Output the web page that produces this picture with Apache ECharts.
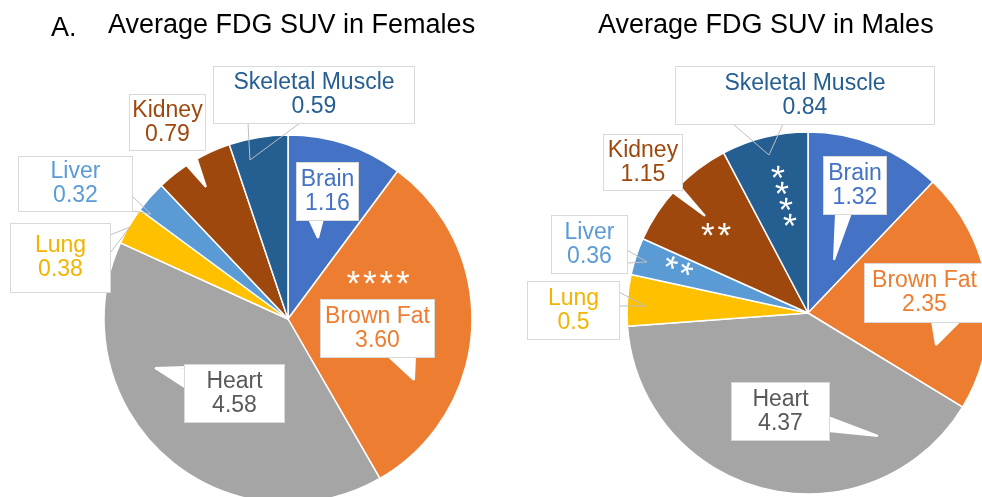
<!DOCTYPE html>
<html>
<head>
<meta charset="utf-8">
<script src="https://cdn.jsdelivr.net/npm/echarts@6/dist/echarts.min.js"></script>
<style>html,body{margin:0;padding:0;background:#fff}#c{width:982px;height:497px}</style>
</head>
<body>
<div id="c"></div>
<script>
// ---- data ----
var tissues = ['Brain', 'Brown Fat', 'Heart', 'Lung', 'Liver', 'Kidney', 'Skeletal Muscle'];
var femaleSUV = [1.16, 3.60, 4.58, 0.38, 0.32, 0.79, 0.59];
var maleSUV = [1.32, 2.35, 4.37, 0.5, 0.36, 1.15, 0.84];
var femaleSig = ['', '****', '', '', '', '', ''];
var maleSig = ['', '', '', '', '**', '**', '****'];
var titleFemale = 'Average FDG SUV in Females';
var titleMale = 'Average FDG SUV in Males';
var panelLabel = 'A.';

// ---- styles / layout ----
var sliceColors = ['#4472C4', '#ED7D31', '#A5A5A5', '#FFC000', '#5B9BD5', '#9E480E', '#255E91'];
var textColors = ['#4472C4', '#ED7D31', '#595959', '#F2B400', '#5B9BD5', '#9E480E', '#255E91'];
var FONT = "'Liberation Sans', Arial, sans-serif";
// callout boxes [x1,y1,x2,y2]
var femaleBoxes = [[297,163,358,220],[321,300,434,357],[185,365,284,422],[11,224,110,292],[19,157,132,211],[130,95,205,150],[214,67,414,123]];
var maleBoxes = [[824,157,886,214],[865,264,984,322],[732,383,829,440],[528,282,619,339],[552,216,627,273],[604,135,682,190],[676,67,934,124]];
// tails: [baseA, tip, baseB, filled]
var femaleTails = [
  [[309,219],[318,238],[323,219],true],
  [[388,356],[414,380],[415,356],true],
  [[186,367],[155,368],[186,388],true],
  [[110,235],[130,227],[110,253],false],
  [[132,196],[151,214],[132,211],false],
  [[173,150],[206,187],[194,150],true],
  [[248,123],[250,160],[300,123],false]
];
var maleTails = [
  [[836,213],[834,260],[851,213],true],
  [[932,321],[936,345],[960,321],true],
  [[828,417],[878,436],[828,431],true],
  [[619,292],[645,306],[619,306],false],
  [[627,250],[647,262],[627,263],false],
  [[668,189],[705,216],[682,189],true],
  [[733,124],[769,155],[783,124],false]
];
// significance marker positions [x, y, rotate]
var femaleSigPos = [null,[378,285,0],null,null,null,null,null];
var maleSigPos = [null,null,null,null,[676,273,-22],[716,237,0],[776,198,-76]];

function fan(t) {
  var a = t[0], tip = t[1], b = t[2];
  if (!t[3]) return [a, tip, b];
  var len = Math.hypot(b[0]-a[0], b[1]-a[1]);
  var n = Math.max(2, Math.ceil(len / 1.3));
  var pts = [];
  for (var i = 0; i <= n; i++) {
    var f = i / n;
    pts.push([a[0] + (b[0]-a[0]) * f, a[1] + (b[1]-a[1]) * f]);
    pts.push(tip);
  }
  return pts;
}

// main pie: slices + significance asterisks
function mainSeries(values, sig, pos, center, radius) {
  return {
    type: 'pie',
    center: center,
    radius: radius,
    startAngle: 90,
    clockwise: true,
    avoidLabelOverlap: false,
    silent: true,
    z: 2,
    itemStyle: { borderColor: '#FFFFFF', borderWidth: 1.5 },
    label: {
      show: true,
      position: 'inside',
      color: '#FFFFFF',
      fontFamily: FONT,
      fontSize: 35,
      formatter: function (p) { return sig[p.dataIndex].split('').join('\u200A'); }
    },
    labelLine: { show: false },
    labelLayout: function (p) {
      var q = pos[p.dataIndex];
      if (!q) return {};
      return { x: q[0], y: q[1], rotate: q[2], align: 'center', verticalAlign: 'middle' };
    },
    data: tissues.map(function (n, i) {
      return { name: n, value: values[i], itemStyle: { color: sliceColors[i] } };
    })
  };
}

// transparent overlay pie carrying the callout labels (drawn above slices)
function calloutSeries(values, boxes, tails, center, radius, fmt) {
  return {
    type: 'pie',
    center: center,
    radius: radius,
    startAngle: 90,
    clockwise: true,
    avoidLabelOverlap: false,
    silent: true,
    z: 5,
    itemStyle: { color: 'rgba(0,0,0,0)', borderWidth: 0 },
    label: {
      show: true,
      position: 'outside',
      formatter: function (p) { return p.name + '\n' + fmt(p.value); },
      fontFamily: FONT,
      fontSize: 23,
      lineHeight: 24,
      align: 'center',
      backgroundColor: '#FFFFFF',
      borderColor: '#D9D9D9',
      borderWidth: 1,
      overflow: 'none'
    },
    labelLine: { show: true, smooth: false },
    labelLayout: function (p) {
      var bx = boxes[p.dataIndex];
      return {
        x: (bx[0] + bx[2]) / 2,
        y: (bx[1] + bx[3]) / 2,
        align: 'center',
        verticalAlign: 'middle',
        labelLinePoints: fan(tails[p.dataIndex])
      };
    },
    data: tissues.map(function (name, i) {
      var bx = boxes[i];
      var w = bx[2] - bx[0], h = bx[3] - bx[1];
      var pv = Math.max(0, (h - 48) / 2);
      return {
        name: name,
        value: values[i],
        label: { color: textColors[i], width: w - 8, padding: [pv, 4, pv, 4] },
        labelLine: { lineStyle: tails[i][3] ? { color: '#FFFFFF', width: 2 } : { color: '#BFBFBF', width: 1 } }
      };
    })
  };
}

var chart = echarts.init(document.getElementById('c'), null, { renderer: 'canvas' });
var tStyle = { fontFamily: FONT, fontSize: 27, fontWeight: 'normal', color: '#000000' };
chart.setOption({
  animation: false,
  backgroundColor: '#FFFFFF',
  title: [
    { text: panelLabel, left: 51, top: 15, padding: 0, textStyle: tStyle },
    { text: titleFemale, left: 108, top: 12, padding: 0, textStyle: tStyle },
    { text: titleMale, left: 598, top: 12, padding: 0, textStyle: tStyle }
  ],
  series: [
    mainSeries(femaleSUV, femaleSig, femaleSigPos, [288, 319], 184),
    mainSeries(maleSUV, maleSig, maleSigPos, [808, 313], 181),
    calloutSeries(femaleSUV, femaleBoxes, femaleTails, [288, 319], 184, function (v) { return v.toFixed(2); }),
    calloutSeries(maleSUV, maleBoxes, maleTails, [808, 313], 181, function (v) { return String(v); })
  ]
});
</script>
</body>
</html>
